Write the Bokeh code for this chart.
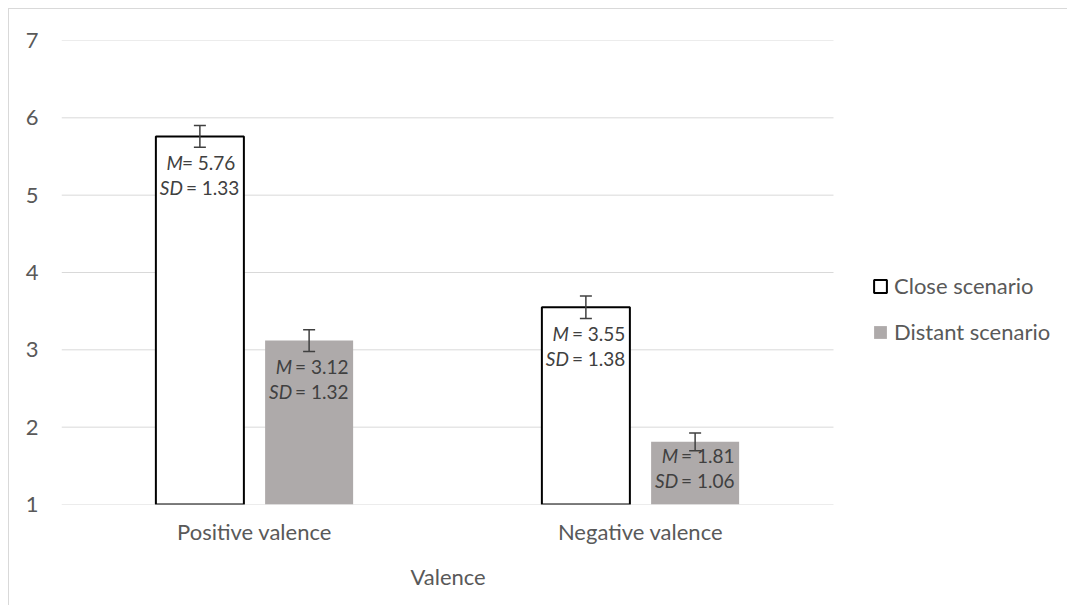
from bokeh.plotting import figure
from bokeh.models import (ColumnDataSource, Range1d, FixedTicker, Whisker, TeeHead,
                          Legend, LegendItem, Title)
from bokeh.transform import dodge
from bokeh.core.properties import value
from bokeh.embed import file_html
from bokeh.resources import INLINE

categories = ["Positive valence", "Negative valence"]
close_mean = [5.76, 3.55]
distant_mean = [3.12, 1.81]
close_err = [0.14, 0.145]
distant_err = [0.14, 0.115]
close_m_text = ["= 5.76", "= 3.55"]
distant_m_text = ["= 3.12", "= 1.81"]
close_sd_text = ["= 1.33", "= 1.38"]
distant_sd_text = ["= 1.32", "= 1.06"]
y_ticks = [1, 2, 3, 4, 5, 6, 7]
series_names = ["Close scenario", "Distant scenario"]
x_title = "Valence"

FONT = "Lato"
FS = "22px"
DFS = "19px"
AXIS_COL = "#595959"
LABEL_COL = "#404040"
GRID_COL = "#d9d9d9"
GRAY = "#aeaaaa"

n_cat = len(categories)
x_pos = [i + 0.5 for i in range(n_cat)]

close_src = ColumnDataSource(dict(
    x=x_pos, top=close_mean,
    upper=[m + e for m, e in zip(close_mean, close_err)],
    lower=[m - e for m, e in zip(close_mean, close_err)],
    mtxt=close_m_text, sdtxt=close_sd_text,
    moff=[26, 26], sdoff=[51, 51],
    mxo=[-18, -14], sdxo=[-14, -14],
    mlab=["M", "M"], sdlab=["SD", "SD"],
))
distant_src = ColumnDataSource(dict(
    x=x_pos, top=distant_mean,
    upper=[m + e for m, e in zip(distant_mean, distant_err)],
    lower=[m - e for m, e in zip(distant_mean, distant_err)],
    mtxt=distant_m_text, sdtxt=distant_sd_text,
    moff=[26, 14], sdoff=[51, 39],
    mxo=[-14, -14], sdxo=[-14, -14],
    mlab=["M", "M"], sdlab=["SD", "SD"],
))

# plot area: categories occupy 772 px of a 1007 px wide frame (rest holds legend)
x_end = n_cat * 1007 / 772
p = figure(x_range=Range1d(0, x_end), y_range=Range1d(1, 7), width=1059, height=597,
           output_backend="svg", toolbar_location=None,
           min_border_left=52, min_border_top=31, min_border_right=0,
           min_border_bottom=102)
p.margin = (8, 0, 0, 8)
p.styles = {"border-top": "1px solid #d9d9d9", "border-left": "1px solid #d9d9d9"}
p.outline_line_color = None
p.background_fill_color = "white"
p.border_fill_color = "white"
p.xgrid.visible = False
p.ygrid.visible = False

# horizontal gridlines over the category area only
p.segment(x0=[0] * len(y_ticks), x1=[n_cat] * len(y_ticks), y0=y_ticks, y1=y_ticks,
          line_color=GRID_COL, line_width=1)

OFF = 0.1415
W = 0.228
r_close = p.vbar(x=dodge("x", -OFF), top="top", bottom=1, width=W,
                 source=close_src, fill_color="white", line_color="black", line_width=2)
r_dist = p.vbar(x=dodge("x", OFF), top="top", bottom=1, width=W,
                source=distant_src, fill_color=GRAY, line_color=None)

for src, off in ((close_src, -OFF), (distant_src, OFF)):
    w = Whisker(base=dodge("x", off), upper="upper", lower="lower",
                source=src, line_color=LABEL_COL, line_width=1.5, level="overlay",
                upper_head=TeeHead(size=12, line_color=LABEL_COL, line_width=1.5),
                lower_head=TeeHead(size=12, line_color=LABEL_COL, line_width=1.5))
    p.add_layout(w)
    x = dodge("x", off)
    common = dict(source=src, text_font=value(FONT), text_font_size=DFS,
                  text_color=LABEL_COL, text_baseline="middle")
    p.text(x=x, y="top", text="mlab", y_offset="moff", x_offset=-17, text_align="right",
           text_font_style="italic", **common)
    p.text(x=x, y="top", text="mtxt", y_offset="moff", x_offset="mxo", text_align="left",
           **common)
    p.text(x=x, y="top", text="sdlab", y_offset="sdoff", x_offset=-17, text_align="right",
           text_font_style="italic", **common)
    p.text(x=x, y="top", text="sdtxt", y_offset="sdoff", x_offset="sdxo", text_align="left",
           **common)

p.yaxis.ticker = FixedTicker(ticks=y_ticks)
p.xaxis.ticker = FixedTicker(ticks=x_pos)
p.xaxis.major_label_overrides = {xp: c for xp, c in zip(x_pos, categories)}

for ax in (p.xaxis, p.yaxis):
    ax.axis_line_color = None
    ax.major_tick_line_color = None
    ax.minor_tick_line_color = None
    ax.major_tick_out = 0
    ax.minor_tick_out = 0
    ax.major_label_text_font = FONT
    ax.major_label_text_font_size = FS
    ax.major_label_text_color = AXIS_COL
p.yaxis.major_label_standoff = 23
p.xaxis.major_label_standoff = 13

# axis title centred under the category area (not the whole frame)
p.add_layout(Title(text=x_title, align="left", offset=349, standoff=26,
                   text_font=FONT, text_font_size=FS, text_font_style="normal",
                   text_color=AXIS_COL), "below")

legend = Legend(items=[LegendItem(label=series_names[0], renderers=[r_close]),
                       LegendItem(label=series_names[1], renderers=[r_dist])],
                location=(811, 159), orientation="vertical",
                padding=0, margin=0, border_line_color=None, background_fill_alpha=0,
                glyph_width=16, glyph_height=16, label_standoff=6,
                label_height=24, spacing=19,
                label_text_font=FONT, label_text_font_size=FS,
                label_text_color=AXIS_COL)
p.add_layout(legend)

open("out.html", "w").write(file_html(p, INLINE))
